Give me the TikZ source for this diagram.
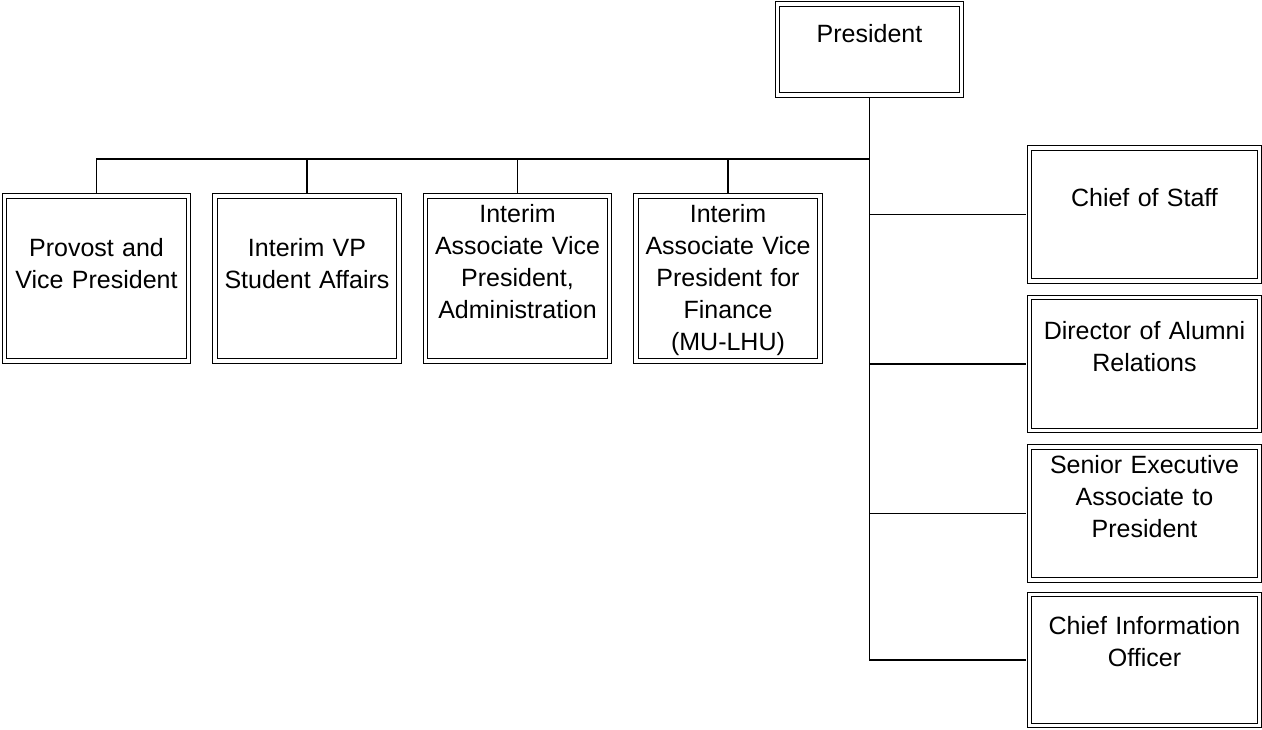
\documentclass[tikz,border=0pt]{standalone}
\usepackage{fontspec}
\setmainfont{Liberation Sans}
\usetikzlibrary{positioning}

\begin{document}
\begin{tikzpicture}[x=1pt, y=-1pt,
    unit/.style={draw, double, double distance=3.4pt, line width=1.1pt, inner sep=0pt, align=center, font=\fontsize{25}{32}\selectfont},
    link/.style={line width=1.3pt, shorten >=2.8pt}]
  \useasboundingbox (0,0) rectangle (1262,729);

  % Top of the chart
  \node[unit, text width=184pt, text height=38pt, text depth=53pt] (pres) at (869.5, 49.5) {President};

  % Row of vice presidents
  \node[unit, text width=184pt, text height=60pt, text depth=105pt] (provost) at (96.5, 278.5) {Provost and\\Vice President};
  \node[unit, text width=184pt, text height=60pt, text depth=105pt] (student) at (307, 278.5) {Interim VP\\Student Affairs};
  \node[unit, text width=184pt, text height=26pt, text depth=139pt] (admin) at (517.5, 278.5) {Interim\\Associate Vice\\President,\\Administration};
  \node[unit, text width=184pt, text height=26pt, text depth=139pt] (finance) at (728, 278.5) {Interim\\Associate Vice\\President for\\Finance\\(MU-LHU)};

  % Staff column on the right
  \node[unit, text width=230pt, text height=58pt, text depth=75pt] (staff) at (1144.5, 214.5) {Chief of Staff};
  \node[unit, text width=230pt, text height=42pt, text depth=91pt] (alumni) at (1144.5, 364) {Director of Alumni\\Relations};
  \node[unit, text width=230pt, text height=26pt, text depth=107pt] (senior) at (1144.5, 513.5) {Senior Executive\\Associate to\\President};
  \node[unit, text width=230pt, text height=40pt, text depth=91pt] (cio) at (1144.5, 660) {Chief Information\\Officer};

  % Connectors
  \coordinate (bus) at (869.5, 159);
  \draw[link, shorten <=2.8pt] (pres.south) -- (pres.south |- cio.west) -- (cio.west);
  \draw[link] (pres.south |- staff.west) -- (staff.west);
  \draw[link] (pres.south |- alumni.west) -- (alumni.west);
  \draw[link] (pres.south |- senior.west) -- (senior.west);
  \draw[link] (bus) -| (provost.north);
  \draw[link] (bus) -| (student.north);
  \draw[link] (bus) -| (admin.north);
  \draw[link] (bus) -| (finance.north);
\end{tikzpicture}
\end{document}
